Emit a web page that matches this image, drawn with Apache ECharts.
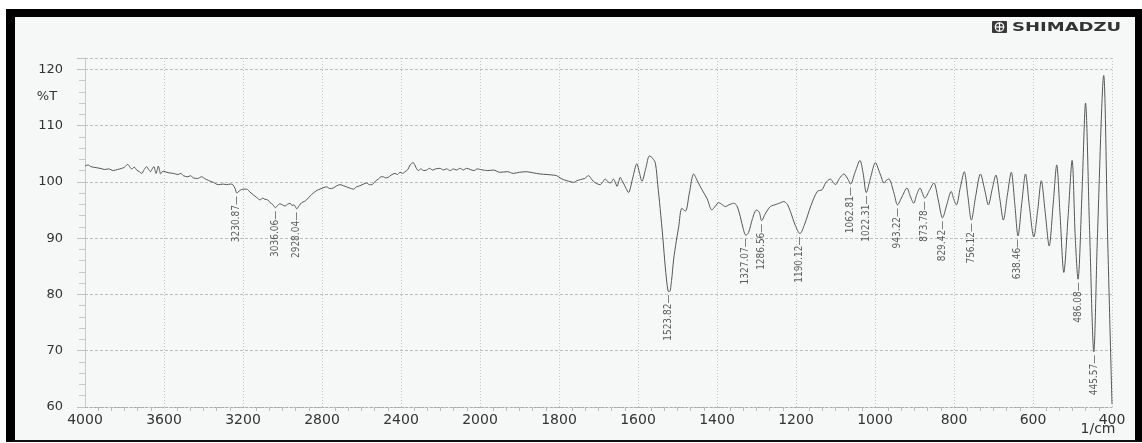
<!DOCTYPE html>
<html><head><meta charset="utf-8">
<script src="https://cdn.jsdelivr.net/npm/echarts@6/dist/echarts.min.js"></script>
<style>
html,body{margin:0;padding:0;background:#fff;}
#frame{position:absolute;left:6px;top:9px;width:1136px;height:433px;box-sizing:border-box;border-top:8px solid #000;border-left:9px solid #000;border-right:7px solid #000;border-bottom:2px solid #111;background:#f6f7f7;}
#c{position:absolute;left:0;top:0;width:1142px;height:443px;}
</style>
</head><body><div id="frame"></div><div id="c"></div>
<script>
// Spectrum (wavenumber in 1/cm, transmittance in %T)
const wavenumbers = [
4000,3985,3970,3958,3940,3924,3900,3880,3857,3835,3814,3800,3784,3772,3764,3750,3738,3725,3713,3700,
3688,3678,3668,3660,3651,3645,3640,3634,3629,3622,3617,3605,3595,3575,3553,3530,3515,3502,3480,3465,
3452,3430,3409,3395,3384,3365,3350,3325,3300,3283,3265,3252,3240,3231,3215,3198,3181,3165,3148,3130,
3114,3100,3089,3075,3063,3050,3036,3025,3013,3000,2987,2975,2962,2952,2942,2935,2928,2915,2903,2890,
2878,2860,2844,2825,2810,2790,2776,2760,2743,2725,2709,2690,2675,2660,2641,2625,2608,2590,2574,2560,
2548,2530,2515,2500,2490,2478,2465,2450,2430,2418,2405,2392,2380,2365,2354,2338,2325,2312,2300,2285,
2270,2255,2240,2225,2203,2185,2170,2150,2135,2120,2100,2085,2068,2050,2030,2015,2000,
1980,1966,1950,1930,1916,1900,1882,1865,1848,1830,1815,1806,1795,1789,1775,1763,1755,1746,1735,1725,
1719,1713,1705,1696,1690,1683,1676,1670,1666,1662,1657,1653,1649,1645,1641,1637,1630,1624,1614,1603,
1596,1590,1580,1571,1563,1556,1550,1544,1537,1531,1524,1520,1515,1510,1503,1497,1489,1480,1470,1459,
1450,1438,1425,1413,1404,1396,1388,1379,1370,1358,1350,1341,1333,1327,1320,1310,1300,1293,1287,1278,
1265,1250,1239,1231,1222,1214,1202,1190,1178,1162,1146,1134,1125,1113,1106,1100,1090,1079,1068,1062,
1050,1038,1030,1022,1011,999,987,977,971,965,952,943,932,919,911,902,894,886,880,874,
862,851,840,829,818,807,801,794,784,774,765,756,745,733,722,713,703,694,684,675,
665,655,646,638,628,619,609,598,588,579,569,559,549,540,531,522,511,501,493,486,
476,467,457,446,437,421,411,400
];
const transmittance = [
102.8,103.0,102.7,102.6,102.5,102.4,102.2,102.3,102.0,102.2,102.4,102.6,103.1,102.6,102.3,102.6,102.1,101.8,101.5,102.2,
102.7,102.2,101.8,102.3,102.7,102.0,101.5,102.2,102.8,102.0,101.4,101.9,101.8,101.6,101.5,101.3,101.5,101.1,100.9,101.1,
100.7,100.6,100.9,100.6,100.4,100.1,99.9,99.5,99.6,99.5,99.6,99.5,98.8,98.0,98.5,98.7,98.7,98.2,97.7,97.2,
96.8,97.1,96.9,96.8,96.3,96.0,95.4,95.8,96.1,95.9,95.7,96.0,96.2,95.8,95.9,95.6,95.2,95.8,96.3,96.5,
96.8,97.5,98.0,98.5,98.7,99.0,99.1,98.8,98.9,99.3,99.5,99.3,99.1,98.9,98.7,99.1,99.3,99.6,99.8,99.5,
99.5,100.1,100.5,100.9,100.9,100.7,100.8,101.2,101.5,101.3,101.7,101.5,101.8,102.2,103.0,103.4,102.6,102.0,102.3,102.0,
102.1,102.4,102.1,102.3,102.4,102.1,102.3,102.0,102.3,102.1,102.4,102.1,102.4,102.2,102.0,102.3,102.2,
102.0,102.1,101.7,101.8,101.5,101.7,101.8,101.6,101.4,101.3,101.2,101.1,100.6,100.4,100.1,99.9,100.2,100.4,100.6,101.1,
100.6,100.1,99.7,99.5,99.9,100.5,100.0,99.8,100.1,100.5,99.8,99.2,100.0,100.8,100.3,99.8,98.8,98.1,100.5,103.2,
101.5,100.1,102.5,104.6,104.2,103.3,99.5,95.3,90.0,84.9,80.6,80.5,82.5,86.1,89.5,92.0,95.3,94.8,98.0,101.4,
100.2,98.6,97.0,95.0,95.7,96.3,96.0,95.6,95.9,96.2,95.8,93.8,91.5,90.5,91.0,93.5,95.0,94.6,93.1,94.3,
95.6,96.0,96.3,96.5,96.0,94.7,92.3,90.8,92.5,95.8,98.3,98.6,99.8,100.5,99.9,99.5,100.6,101.4,100.4,99.6,
101.8,103.8,101.5,98.1,100.8,103.4,101.4,99.8,100.3,100.5,98.0,95.9,97.3,98.9,97.5,96.2,97.8,98.9,98.0,97.1,
98.5,99.8,96.8,93.6,96.0,98.3,97.0,95.9,99.0,101.8,97.5,93.2,97.5,101.4,98.5,95.9,98.8,101.2,97.0,93.2,
97.6,101.7,96.0,90.4,96.5,101.4,95.6,90.2,95.0,100.2,94.5,88.6,96.0,103.0,93.5,83.9,94.0,103.8,90.0,82.7,
98.0,114.0,92.0,69.8,90.0,118.9,90.0,60.5
];
// Labelled peaks
const peakLabels = ['3230.87','3036.06','2928.04','1523.82','1327.07','1286.56','1190.12','1062.81','1022.31','943.22','873.78','829.42','756.12','638.46','486.08','445.57'];
const peakWavenumbers = [3230.87,3036.06,2928.04,1523.82,1327.07,1286.56,1190.12,1062.81,1022.31,943.22,873.78,829.42,756.12,638.46,486.08,445.57];
const peakTransmittance = [98.0,95.4,95.2,80.5,90.5,93.1,90.8,99.6,98.1,95.9,97.1,93.6,93.2,90.4,82.7,69.8];

const highData = [], lowData = [];
wavenumbers.forEach((w, i) => {
  if (w >= 2000) highData.push([w, transmittance[i]]);
  if (w <= 2000) lowData.push([w, transmittance[i]]);
});
const highPeaks = [], lowPeaks = [];
peakWavenumbers.forEach((w, i) => {
  const d = {value: [w, peakTransmittance[i]], name: peakLabels[i]};
  (w >= 2000 ? highPeaks : lowPeaks).push(d);
});

const FONT = '"DejaVu Sans", sans-serif';
const labelColor = '#333';
const peakLabel = {
  show: true, position: 'bottom', distance: 3, rotate: 90, align: 'right', verticalAlign: 'middle',
  formatter: p => p.name + '\u2014',
  fontFamily: '"Liberation Sans Narrow", "DejaVu Sans Condensed", sans-serif', fontSize: 10, color: '#333'
};
const gridTop = 58, gridHeight = 349;
function xAxisCfg(idx, min, max, interval, hideFn) {
  return {
    type: 'value', gridIndex: idx, min: min, max: max, interval: interval, inverse: true,
    axisLine: {show: true, lineStyle: {color: '#aaa', type: [2, 2]}},
    axisTick: {show: false},
    minorTick: {show: true, splitNumber: 6, length: 4, lineStyle: {color: '#bbb'}},
    axisLabel: {margin: 6, fontFamily: FONT, fontSize: 14, color: labelColor,
      formatter: v => hideFn(v) ? '' : String(v)},
    splitLine: {show: true, lineStyle: {color: '#c4c4c4', type: [1, 2], width: 1}}
  };
}
function yAxisCfg(idx, visible) {
  return {
    type: 'value', gridIndex: idx, min: 60, max: 122, interval: 10,
    axisLine: {show: visible, lineStyle: {color: '#c8c8c8'}},
    axisTick: {show: visible, length: 8, lineStyle: {color: '#c0c0c0'}},
    minorTick: {show: visible, splitNumber: 5, length: 6, lineStyle: {color: '#c8c8c8'}},
    axisLabel: {show: visible, margin: 22, fontFamily: FONT, fontSize: 13, color: labelColor,
      formatter: v => (v % 10 === 0 ? String(v) : '')},
    splitLine: {show: true, lineStyle: {color: '#bdbdbd', type: [3, 2], width: 1}}
  };
}
const chart = echarts.init(document.getElementById('c'), null, {renderer: 'canvas'});
chart.setOption({
  animation: false,
  grid: [
    {left: 85, top: gridTop, width: 395, height: gridHeight, show: false},
    {left: 480, top: gridTop, width: 632, height: gridHeight, show: false}
  ],
  xAxis: [
    xAxisCfg(0, 2000, 4000, 400, v => v === 2000),
    xAxisCfg(1, 400, 2000, 200, v => false)
  ],
  yAxis: [yAxisCfg(0, true), yAxisCfg(1, false)],
  series: [
    {type: 'line', xAxisIndex: 0, yAxisIndex: 0, data: highData, showSymbol: false, symbol: 'none',
      smooth: 0.3, lineStyle: {color: '#555', width: 1}},
    {type: 'line', xAxisIndex: 1, yAxisIndex: 1, data: lowData, showSymbol: false, symbol: 'none',
      smooth: 0.3, lineStyle: {color: '#555', width: 1}},
    {type: 'scatter', xAxisIndex: 0, yAxisIndex: 0, data: highPeaks, symbolSize: 0, label: peakLabel, silent: true},
    {type: 'scatter', xAxisIndex: 1, yAxisIndex: 1, data: lowPeaks, symbolSize: 0, label: peakLabel, silent: true}
  ],
  graphic: [
    {type: 'text', x: 47, y: 97, style: {text: '%T', font: '13px ' + FONT, fill: labelColor, align: 'center', verticalAlign: 'middle'}},
    {type: 'text', x: 1098, y: 429, style: {text: '1/cm', font: '14px ' + FONT, fill: labelColor, align: 'center', verticalAlign: 'middle'}},
    {type: 'rect', shape: {x: 992, y: 21, width: 15, height: 12, r: 1}, style: {fill: '#3a3a3a'}},
    {type: 'circle', shape: {cx: 999.5, cy: 27, r: 4.2}, style: {fill: 'none', stroke: '#fff', lineWidth: 1.2}},
    {type: 'line', shape: {x1: 999.5, y1: 22.5, x2: 999.5, y2: 31.5}, style: {stroke: '#fff', lineWidth: 1.2}},
    {type: 'line', shape: {x1: 995, y1: 27, x2: 1004, y2: 27}, style: {stroke: '#fff', lineWidth: 1.2}},
    {type: 'text', x: 1012, y: 27.5, scaleX: 1.5, style: {text: 'SHIMADZU', font: 'bold 12px ' + FONT, fill: '#333', align: 'left', verticalAlign: 'middle'}}
  ]
});
</script>
</body></html>
